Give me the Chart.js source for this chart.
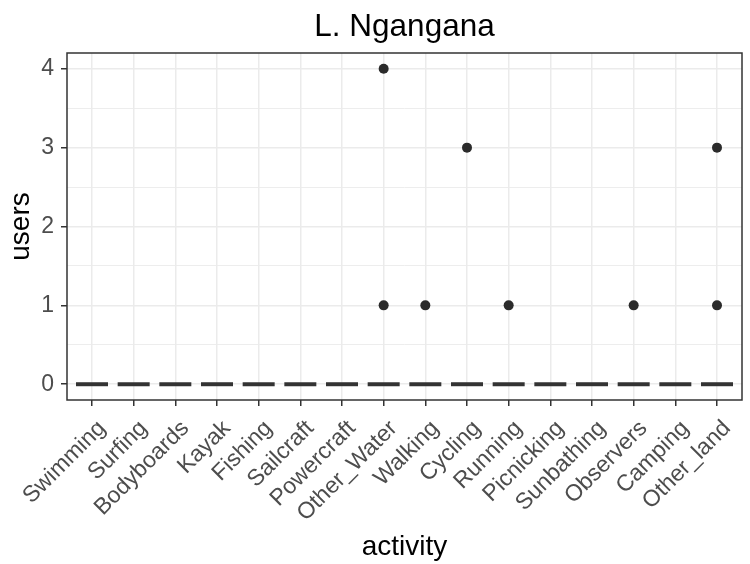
<!DOCTYPE html>
<html>
<head>
<meta charset="utf-8">
<title>L. Ngangana</title>
<script src="https://cdn.jsdelivr.net/npm/chart.js@4/dist/chart.umd.min.js"></script>
<style>
    html, body { margin: 0; padding: 0; background: #fff; }
    canvas { display: block; }
</style>
</head>
<body>
<canvas id="usersChart" width="750" height="564"></canvas>
<script>
// activities surveyed at the site
const activities = ['Swimming', 'Surfing', 'Bodyboards', 'Kayak', 'Fishing', 'Sailcraft', 'Powercraft',
    'Other_Water', 'Walking', 'Cycling', 'Running', 'Picnicking', 'Sunbathing', 'Observers', 'Camping', 'Other_land'];

// box medians (every box collapses to zero)
const medians = [0, 0, 0, 0, 0, 0, 0, 0, 0, 0, 0, 0, 0, 0, 0, 0];

// outlying user counts for each activity
const outliers = [[], [], [], [], [], [], [], [1, 4], [1], [3], [1], [], [], [1], [], [1, 3]];

const yTicks = [0, 0.5, 1, 1.5, 2, 2.5, 3, 3.5, 4];

const inkColor = '#333333';
const gridColor = '#EBEBEB';
const tickTextColor = '#4D4D4D';
const fontFamily = '"Liberation Sans", Arial, sans-serif';

const medianPoints = medians.map((v, i) => ({x: i, y: v}));
let outlierPoints = [];
outliers.forEach((vals, i) => {
    vals.forEach((v) => outlierPoints.push({x: i, y: v}));
});

// white page plus the panel frame drawn on top of everything
const panelFrame = {
    id: 'panelFrame',
    beforeDraw(chart) {
        const ctx = chart.ctx;
        ctx.save();
        ctx.fillStyle = '#fff';
        ctx.fillRect(0, 0, chart.width, chart.height);
        ctx.restore();
    },
    afterDraw(chart) {
        const a = chart.chartArea;
        const ctx = chart.ctx;
        ctx.save();
        ctx.strokeStyle = inkColor;
        ctx.lineWidth = 1.5;
        ctx.strokeRect(a.left, a.top, a.right - a.left, a.bottom - a.top);
        ctx.restore();
    }
};

const isMajor = (v) => Number.isInteger(v);

new Chart(document.getElementById('usersChart'), {
    type: 'scatter',
    data: {
        datasets: [
            {
                label: 'median',
                data: medianPoints,
                pointStyle: 'line',
                pointRadius: 16,
                borderWidth: 4,
                borderColor: inkColor,
                backgroundColor: inkColor
            },
            {
                label: 'outliers',
                data: outlierPoints,
                pointStyle: 'circle',
                pointRadius: 5,
                borderWidth: 0,
                backgroundColor: '#2b2b2b',
                borderColor: '#2b2b2b'
            }
        ]
    },
    options: {
        responsive: false,
        animation: false,
        layout: {
            // the wide median marks would otherwise push the panel inwards
            autoPadding: false,
            padding: {top: 0, right: 8, bottom: 0, left: 0}
        },
        plugins: {
            legend: {display: false},
            tooltip: {enabled: false},
            title: {
                display: true,
                fullSize: false,
                text: 'L. Ngangana',
                color: '#000',
                font: {family: fontFamily, size: 31.5, weight: 'normal'},
                padding: {top: 8, bottom: 7.2}
            }
        },
        scales: {
            x: {
                type: 'linear',
                min: -0.6,
                max: 15.6,
                afterBuildTicks(scale) {
                    scale.ticks = activities.map((_, i) => ({value: i}));
                },
                afterFit(scale) {
                    scale.height = 164;
                    scale.paddingLeft = 0;
                    scale.paddingRight = 0;
                },
                ticks: {
                    autoSkip: false,
                    minRotation: 45,
                    maxRotation: 45,
                    padding: 9,
                    labelOffset: 10,
                    color: tickTextColor,
                    font: {family: fontFamily, size: 23},
                    callback: (v) => activities[v]
                },
                grid: {
                    color: gridColor,
                    lineWidth: 1.5,
                    tickLength: 6,
                    tickColor: inkColor,
                    tickWidth: 1.5
                },
                border: {display: false},
                title: {
                    display: true,
                    text: 'activity',
                    color: '#000',
                    font: {family: fontFamily, size: 28},
                    padding: {top: 0, bottom: 0}
                }
            },
            y: {
                min: -0.2,
                max: 4.2,
                afterBuildTicks(scale) {
                    scale.ticks = yTicks.map((v) => ({value: v}));
                },
                afterFit(scale) {
                    scale.width = 67;
                    scale.paddingTop = 0;
                    scale.paddingBottom = 0;
                },
                ticks: {
                    padding: 7,
                    color: tickTextColor,
                    font: {family: fontFamily, size: 23},
                    callback: (v) => isMajor(v) ? String(v) : ''
                },
                grid: {
                    color: gridColor,
                    lineWidth: (c) => isMajor(c.tick.value) ? 1.5 : 0.9,
                    tickLength: 6,
                    tickColor: (c) => isMajor(c.tick.value) ? inkColor : 'rgba(0,0,0,0)',
                    tickWidth: 1.5
                },
                border: {display: false},
                title: {
                    display: true,
                    text: 'users',
                    color: '#000',
                    font: {family: fontFamily, size: 28},
                    padding: {top: 4, bottom: 0}
                }
            }
        }
    },
    plugins: [panelFrame]
});
</script>
</body>
</html>
